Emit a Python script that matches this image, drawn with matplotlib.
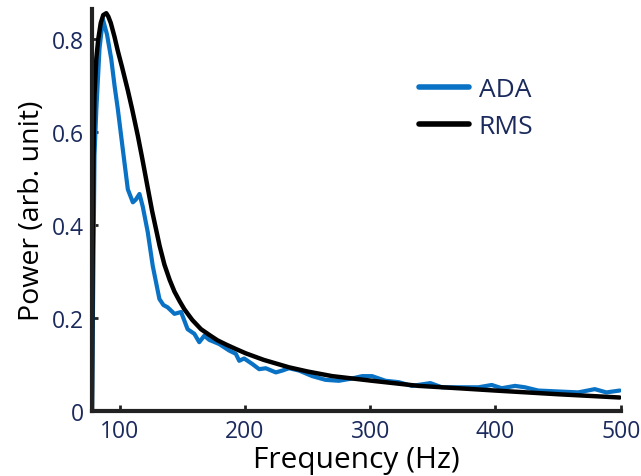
import numpy as np
import matplotlib
matplotlib.use("Agg")
from matplotlib import pyplot as plt

# values
ada_freq = [78, 80, 81.5, 84, 86.7, 90, 93.4, 96, 98.6, 102.6, 106.6, 110.6, 113, 115.9,
            118.5, 122.5, 126.5, 131.8, 135, 138.4, 143.8, 149.1, 154.3, 159.7, 163.6,
            167.6, 171.6, 179.6, 187.5, 192.8, 195.5, 199.4, 206, 211.4, 216.7, 224.7,
            229.9, 235.2, 243.2, 253.8, 264.4, 275, 285.6, 293.6, 301.5, 312.2, 322.8,
            333.3, 348, 357.2, 375.8, 386.4, 397, 404.9, 415.6, 423.5, 434.1, 450, 466,
            479.2, 488.5, 499.1]
ada_power = [0.0, 0.55, 0.65, 0.78, 0.843, 0.81, 0.757, 0.70, 0.65, 0.563, 0.477, 0.449,
             0.455, 0.467, 0.44, 0.385, 0.312, 0.241, 0.228, 0.223, 0.209, 0.213, 0.176,
             0.166, 0.148, 0.162, 0.153, 0.144, 0.130, 0.123, 0.108, 0.113, 0.101, 0.090,
             0.092, 0.083, 0.087, 0.092, 0.087, 0.075, 0.067, 0.065, 0.070, 0.075, 0.075,
             0.065, 0.062, 0.054, 0.060, 0.051, 0.051, 0.051, 0.056, 0.049, 0.054, 0.051,
             0.044, 0.042, 0.040, 0.047, 0.040, 0.044]

rms_freq = [78, 78.5, 79.2, 80, 81.5, 83, 85, 87, 89.4, 91, 93, 96, 98.6, 102, 106.6,
            110, 114.6, 118, 122.5, 126, 129.2, 132, 135.8, 140, 143.8, 148, 151.7, 158,
            165, 172, 178.2, 185, 191.5, 200.8, 215, 235.2, 250, 269.7, 301.5, 338.7,
            370, 399.7, 450, 499.1]
rms_power = [0.0, 0.30, 0.55, 0.68, 0.76, 0.80, 0.835, 0.852, 0.856, 0.849, 0.835, 0.805,
             0.775, 0.740, 0.690, 0.650, 0.592, 0.545, 0.480, 0.430, 0.390, 0.355, 0.315,
             0.282, 0.257, 0.236, 0.219, 0.196, 0.176, 0.163, 0.152, 0.143, 0.135, 0.124,
             0.110, 0.094, 0.085, 0.075, 0.065, 0.054, 0.049, 0.044, 0.036, 0.029]

x_ticks = [100, 200, 300, 400, 500]
y_ticks = [0, 0.2, 0.4, 0.6, 0.8]
y_tick_labels = ["0", "0.2", "0.4", "0.6", "0.8"]

navy = "#1b2a5c"
plt.rcParams['font.family'] = ['Open Sans', 'DejaVu Sans']

fig = plt.figure(figsize=(6.41, 4.77), dpi=100)
ax = fig.add_axes([0.1435, 0.1363, 0.825, 0.8427])

ax.plot(ada_freq, ada_power, color="#0a72c4", lw=3.0, label="ADA",
        solid_joinstyle="round", solid_capstyle="round")
ax.plot(rms_freq, rms_power, color="black", lw=3.2, label="RMS",
        solid_joinstyle="round", solid_capstyle="round")

ax.set_xlim(78, 500)
ax.set_ylim(0, 0.865)
ax.set_xticks(x_ticks)
ax.set_yticks(y_ticks)
ax.set_yticklabels(y_tick_labels)

for side in ["top", "right"]:
    ax.spines[side].set_visible(False)
for side in ["left", "bottom"]:
    ax.spines[side].set_linewidth(3)
    ax.spines[side].set_color("#222222")

ax.tick_params(direction="in", length=4, width=2, color="#222222",
               labelsize=16.5, labelcolor=navy)
ax.tick_params(axis="x", pad=6)
ax.tick_params(axis="y", pad=6)

ax.set_xlabel("Frequency (Hz)", fontsize=21.5, labelpad=1)
ax.set_ylabel("Power (arb. unit)", fontsize=20.5, labelpad=4)

leg = ax.legend(loc="upper left", bbox_to_anchor=(0.574, 0.89), frameon=False,
                fontsize=19, handlelength=1.9, handletextpad=0.35, labelspacing=0.45)
for t in leg.get_texts():
    t.set_color(navy)
for line in leg.get_lines():
    line.set_linewidth(4)

fig.savefig("out.png", dpi=100)
